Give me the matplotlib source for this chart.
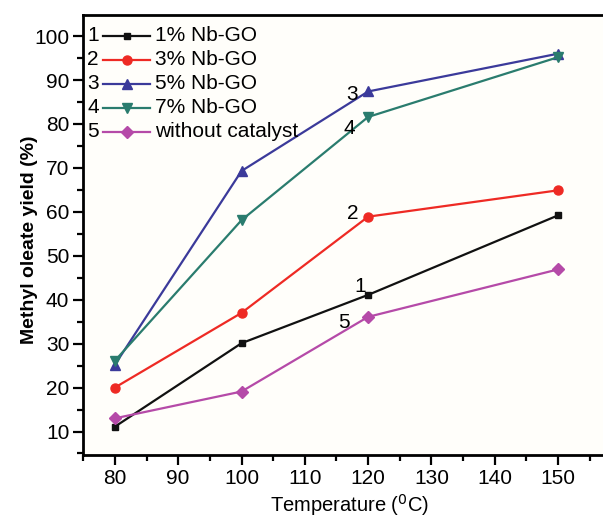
import matplotlib
matplotlib.use("Agg")
import matplotlib.pyplot as plt
from matplotlib.ticker import MultipleLocator

plt.rcParams['font.family'] = ['Liberation Sans', 'DejaVu Sans']

temps = [80, 100, 120, 150]
nb1 = [11.1, 30.1, 41.1, 59.2]
nb3 = [20.0, 37.0, 58.9, 64.9]
nb5 = [25.2, 69.3, 87.4, 96.0]
nb7 = [26.1, 58.1, 81.6, 95.2]
no_cat = [13.0, 19.1, 36.1, 46.9]

series = [
    ("1", "1% Nb-GO", nb1, "#111111", "s", 5),
    ("2", "3% Nb-GO", nb3, "#ee2a24", "o", 6.5),
    ("3", "5% Nb-GO", nb5, "#3b3a9a", "^", 7),
    ("4", "7% Nb-GO", nb7, "#2a7c6e", "v", 7),
    ("5", "without catalyst", no_cat, "#b54aa8", "D", 6),
]

# numbers written next to the curves
curve_tags = [("3", 117.4, 86.7), ("4", 117.1, 79.0), ("2", 117.6, 59.6),
              ("1", 118.7, 43.0), ("5", 116.2, 34.8)]

fig = plt.figure(figsize=(6.03, 5.18), dpi=100)
ax = fig.add_axes([0.138, 0.122, 0.882, 0.849])
ax.set_facecolor("#fffefa")

for num, name, vals, col, mk, ms in series:
    ax.plot(temps, vals, color=col, marker=mk, markersize=ms, lw=1.6)

for t, x, y in curve_tags:
    ax.text(x, y, t, fontsize=15, ha="center", va="center")

# legend drawn by hand: number, line with marker, label
for i, (num, name, vals, col, mk, ms) in enumerate(series):
    yy = 0.953 - i * 0.0545
    ax.text(0.008, yy, num, transform=ax.transAxes, fontsize=15, va="center")
    ax.plot([0.038, 0.125], [yy, yy], transform=ax.transAxes, color=col, lw=1.6)
    ax.plot([0.0815], [yy], transform=ax.transAxes, color=col, marker=mk,
            markersize=ms)
    ax.text(0.135, yy, name, transform=ax.transAxes, fontsize=15, va="center")

ax.set_xlim(75, 159)
ax.set_ylim(4.7, 104.8)
ax.xaxis.set_major_locator(MultipleLocator(10))
ax.xaxis.set_minor_locator(MultipleLocator(5))
ax.yaxis.set_major_locator(MultipleLocator(10))
ax.yaxis.set_minor_locator(MultipleLocator(5))
ax.tick_params(which="both", direction="out", top=False, right=False,
               width=1.6, labelsize=15, pad=3)
ax.tick_params(which="major", length=7)
ax.tick_params(which="minor", length=4)
for sp in ax.spines.values():
    sp.set_linewidth(2)

ax.set_xlabel("Temperature ($^0$C)", fontsize=14.5, labelpad=3)
ax.set_ylabel("Methyl oleate yield (%)", fontsize=14, fontweight="bold")
ax.yaxis.set_label_coords(-0.085, 0.49)

fig.savefig("out.png", dpi=100)
